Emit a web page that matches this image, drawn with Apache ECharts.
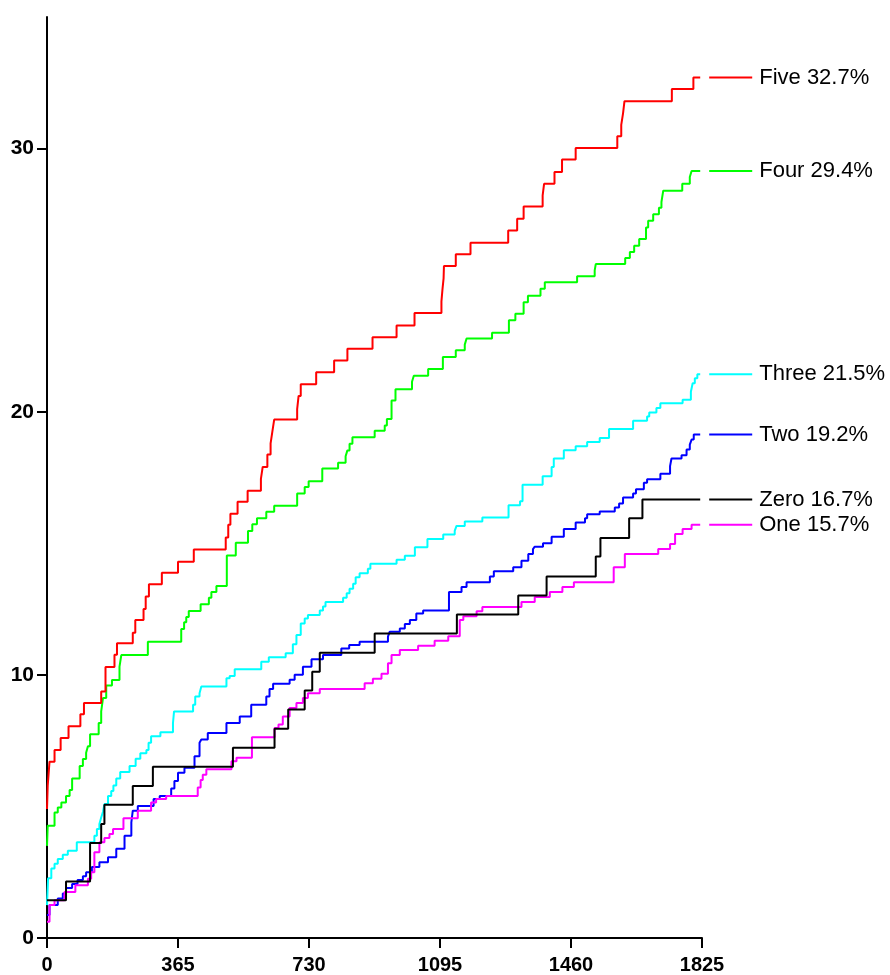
<!DOCTYPE html>
<html>
<head>
<meta charset="utf-8">
<script src="https://cdn.jsdelivr.net/npm/echarts@6/dist/echarts.min.js"></script>
<style>
  html, body { margin: 0; padding: 0; background: #fff; }
  #chart { width: 890px; height: 975px; }
</style>
</head>
<body>
<div id="chart"></div>
<script>
// axes
const xTicks = [0, 365, 730, 1095, 1460, 1825];
const yTicks = [0, 10, 20, 30];

// Five (red)
const fiveDays = [0, 2, 7, 21, 38, 60, 93, 103, 151, 163, 188, 195, 239, 246, 269, 275, 284, 320, 365, 409, 498, 505, 511, 531, 559, 596, 601, 614, 623, 628, 633, 697, 701, 707, 750, 800, 837, 907, 974, 1024, 1099, 1102, 1105, 1106, 1139, 1180, 1285, 1310, 1328, 1381, 1385, 1414, 1435, 1473, 1589, 1600, 1605, 1609, 1741, 1801, 1820];
const fiveVals = [4.9, 5.8, 6.7, 7.14, 7.6, 8.05, 8.5, 8.93, 9.37, 10.3, 10.76, 11.2, 11.6, 12.08, 12.5, 12.98, 13.44, 13.88, 14.3, 14.76, 15.22, 15.7, 16.12, 16.58, 17.0, 17.45, 17.9, 18.37, 18.8, 19.25, 19.7, 20.1, 20.6, 21.04, 21.5, 21.95, 22.39, 22.83, 23.28, 23.75, 24.19, 24.67, 25.07, 25.54, 25.98, 26.42, 26.89, 27.33, 27.8, 28.22, 28.66, 29.11, 29.58, 30.02, 30.47, 30.9, 31.34, 31.8, 32.26, 32.7, 32.7];

// Four (green)
const fourDays = [0, 2, 21, 30, 40, 53, 63, 70, 91, 100, 109, 114, 120, 144, 151, 156, 165, 181, 202, 207, 281, 374, 382, 388, 395, 428, 451, 458, 472, 501, 526, 560, 572, 585, 611, 633, 697, 718, 729, 767, 811, 832, 837, 843, 851, 913, 941, 947, 960, 971, 1017, 1022, 1062, 1103, 1139, 1164, 1169, 1240, 1287, 1305, 1328, 1340, 1375, 1387, 1477, 1526, 1529, 1611, 1624, 1636, 1650, 1669, 1675, 1689, 1705, 1712, 1717, 1770, 1791, 1796, 1820];
const fourVals = [3.5, 4.27, 4.77, 4.96, 5.15, 5.4, 5.62, 6.06, 6.54, 6.8, 7.04, 7.29, 7.74, 8.17, 8.61, 9.12, 9.6, 9.8, 10.31, 10.75, 11.26, 11.74, 12.0, 12.2, 12.43, 12.68, 12.93, 13.15, 13.38, 14.54, 15.02, 15.47, 15.72, 15.95, 16.2, 16.43, 16.89, 17.14, 17.36, 17.84, 18.06, 18.31, 18.53, 18.78, 19.03, 19.28, 19.48, 19.72, 20.43, 20.85, 21.14, 21.37, 21.62, 22.08, 22.34, 22.55, 22.78, 23.0, 23.48, 23.72, 24.16, 24.41, 24.67, 24.92, 25.15, 25.37, 25.61, 25.84, 26.07, 26.31, 26.56, 27.0, 27.26, 27.5, 27.75, 27.97, 28.4, 28.66, 28.92, 29.15, 29.15];

// Three (cyan)
const threeDays = [0, 3, 12, 21, 30, 44, 58, 83, 132, 139, 146, 151, 156, 160, 170, 179, 185, 193, 204, 230, 247, 260, 277, 283, 290, 316, 351, 354, 407, 413, 425, 430, 500, 509, 523, 597, 618, 665, 685, 695, 707, 718, 727, 760, 769, 776, 825, 835, 843, 853, 860, 871, 894, 901, 974, 997, 1025, 1060, 1104, 1136, 1141, 1164, 1213, 1286, 1318, 1325, 1381, 1406, 1412, 1440, 1473, 1505, 1540, 1566, 1633, 1672, 1678, 1698, 1709, 1771, 1794, 1799, 1805, 1812, 1820];
const threeVals = [1.25, 2.27, 2.64, 2.82, 3.0, 3.16, 3.32, 3.64, 3.89, 4.14, 4.33, 4.58, 4.8, 5.09, 5.4, 5.59, 5.8, 6.06, 6.31, 6.54, 6.81, 7.02, 7.14, 7.42, 7.67, 7.82, 8.17, 8.61, 8.86, 9.18, 9.3, 9.56, 9.87, 9.96, 10.21, 10.5, 10.67, 10.82, 11.16, 11.51, 11.95, 12.14, 12.27, 12.45, 12.6, 12.77, 12.93, 13.1, 13.27, 13.46, 13.71, 13.86, 14.03, 14.22, 14.37, 14.53, 14.85, 15.16, 15.33, 15.47, 15.66, 15.83, 15.98, 16.45, 16.6, 17.22, 17.55, 17.9, 18.22, 18.54, 18.69, 18.85, 19.0, 19.34, 19.66, 19.82, 19.97, 20.14, 20.32, 20.45, 20.76, 21.08, 21.27, 21.42, 21.42];

// Two (blue)
const twoDays = [0, 7, 30, 44, 53, 70, 85, 100, 109, 125, 146, 170, 193, 216, 235, 239, 253, 297, 314, 346, 355, 365, 383, 411, 425, 430, 448, 500, 537, 569, 611, 620, 630, 676, 690, 713, 737, 769, 820, 842, 871, 950, 955, 983, 997, 1011, 1029, 1048, 1120, 1155, 1169, 1234, 1245, 1299, 1322, 1341, 1354, 1359, 1382, 1406, 1440, 1473, 1499, 1505, 1540, 1582, 1594, 1605, 1633, 1641, 1663, 1672, 1709, 1736, 1740, 1768, 1782, 1791, 1796, 1802, 1820];
const twoVals = [0.87, 1.25, 1.5, 1.69, 1.9, 2.05, 2.2, 2.35, 2.5, 2.7, 2.88, 3.07, 3.39, 3.89, 4.39, 4.84, 5.02, 5.28, 5.4, 5.68, 5.97, 6.28, 6.47, 6.91, 7.42, 7.54, 7.79, 8.17, 8.42, 8.86, 9.18, 9.46, 9.66, 9.81, 10.0, 10.31, 10.59, 10.75, 11.0, 11.13, 11.26, 11.45, 11.64, 11.76, 11.93, 12.08, 12.33, 12.45, 13.15, 13.34, 13.52, 13.74, 13.94, 14.09, 14.34, 14.59, 14.78, 14.87, 15.0, 15.25, 15.54, 15.79, 15.95, 16.1, 16.21, 16.36, 16.51, 16.74, 16.89, 17.05, 17.3, 17.43, 17.64, 17.93, 18.22, 18.35, 18.56, 18.75, 18.94, 19.13, 19.13];

// One (magenta)
const oneDays = [0, 7, 21, 49, 79, 114, 123, 132, 146, 160, 174, 184, 213, 253, 290, 304, 332, 420, 428, 434, 444, 514, 528, 571, 634, 645, 657, 676, 695, 713, 727, 760, 885, 908, 932, 950, 960, 983, 1034, 1080, 1118, 1150, 1160, 1197, 1213, 1322, 1359, 1401, 1436, 1468, 1579, 1610, 1703, 1736, 1750, 1771, 1796, 1820];
const oneVals = [0.62, 1.25, 1.43, 1.75, 2.0, 2.25, 2.5, 3.26, 3.64, 3.8, 3.95, 4.14, 4.55, 4.84, 5.15, 5.28, 5.4, 5.72, 6.0, 6.2, 6.41, 6.72, 6.85, 7.63, 7.98, 8.11, 8.42, 8.74, 8.93, 9.12, 9.3, 9.46, 9.68, 9.85, 10.04, 10.44, 10.75, 10.94, 11.11, 11.3, 11.47, 12.08, 12.23, 12.42, 12.58, 12.77, 12.96, 13.15, 13.34, 13.52, 14.09, 14.59, 14.78, 14.97, 15.35, 15.54, 15.7, 15.7];

// Zero (black)
const zeroDays = [0, 53, 120, 151, 160, 239, 295, 518, 634, 672, 718, 739, 760, 913, 1142, 1313, 1392, 1529, 1542, 1622, 1659, 1820];
const zeroVals = [1.43, 2.15, 3.61, 4.33, 5.06, 5.78, 6.51, 7.23, 7.95, 8.68, 9.41, 10.12, 10.84, 11.57, 12.29, 13.02, 13.74, 14.5, 15.2, 15.95, 16.66, 16.66];

const seriesNames = ['Four', 'Five', 'Three', 'Two', 'One', 'Zero'];
const seriesLabels = ['Four 29.4%', 'Five 32.7%', 'Three 21.5%', 'Two 19.2%', 'One 15.7%', 'Zero 16.7%'];
const seriesColors = ['#00ff00', '#ff0000', '#00ffff', '#0000ff', '#ff00ff', '#000000'];
const seriesDays = [fourDays, fiveDays, threeDays, twoDays, oneDays, zeroDays];
const seriesVals = [fourVals, fiveVals, threeVals, twoVals, oneVals, zeroVals];

const FONT = '"Liberation Sans", Arial, sans-serif';

const Chart = {
  chart: null,
  option: null,

  init: function() {
    const dom = document.getElementById('chart');
    this.chart = echarts.init(dom, null, { renderer: 'canvas' });

    const series = seriesNames.map((name, i) => ({
      name: name,
      type: 'line',
      step: 'end',
      showSymbol: false,
      silent: true,
      lineStyle: { color: seriesColors[i], width: 2 },
      itemStyle: { color: seriesColors[i] },
      data: seriesDays[i].map((d, k) => [d, seriesVals[i][k]]),
      endLabel: {
        show: true,
        distance: 9,
        formatter: '{l|}{t|' + seriesLabels[i] + '}',
        rich: {
          l: { width: 43, height: 2, backgroundColor: seriesColors[i] },
          t: { fontSize: 22, color: '#000', fontFamily: FONT, padding: [0, 0, 0, 7] }
        }
      }
    }));

    this.option = {
      animation: false,
      backgroundColor: '#fff',
      grid: { left: 47, right: 188, top: 17, bottom: 32 },
      xAxis: {
        type: 'value',
        min: 0,
        max: 1825,
        interval: 365,
        splitLine: { show: false },
        axisLine: { show: true, lineStyle: { color: '#000', width: 2 } },
        axisTick: { show: true, length: 10, lineStyle: { color: '#000', width: 2 }, customValues: xTicks },
        axisLabel: {
          color: '#000', fontSize: 20, fontWeight: 'bold', fontFamily: FONT, margin: 17,
          customValues: xTicks,
          formatter: (v) => String(v)
        }
      },
      yAxis: {
        type: 'value',
        min: 0,
        max: 35,
        interval: 10,
        splitLine: { show: false },
        axisLine: { show: true, lineStyle: { color: '#000', width: 2 } },
        axisTick: { show: true, length: 10, lineStyle: { color: '#000', width: 2 }, customValues: yTicks },
        axisLabel: {
          color: '#000', fontSize: 21, fontWeight: 'bold', fontFamily: FONT, margin: 13,
          customValues: yTicks,
          formatter: (v) => String(v)
        }
      },
      series: series
    };

    this.chart.setOption(this.option);
  }
};

Chart.init();
</script>
</body>
</html>
